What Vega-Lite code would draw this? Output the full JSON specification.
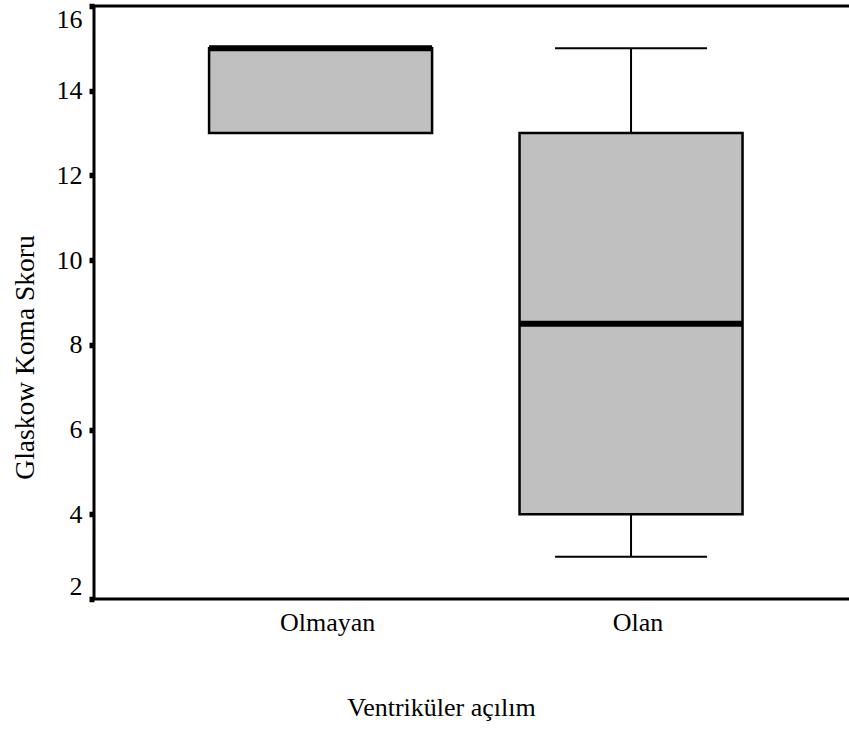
{
  "$schema": "https://vega.github.io/schema/vega-lite/v6.json",
  "autosize": "none",
  "padding": {"left": 94, "top": 6, "right": 0, "bottom": 130},
  "width": 760,
  "height": 593,
  "background": "white",
  "config": {
    "font": "Liberation Serif",
    "view": {"stroke": "black", "strokeWidth": 3},
    "axis": {
      "labelFont": "Liberation Serif",
      "titleFont": "Liberation Serif",
      "labelColor": "black",
      "titleColor": "black",
      "titleFontWeight": "normal",
      "grid": false,
      "domain": false
    }
  },
  "data": {
    "values": [
      {"grup": "Olmayan", "min": 13, "q1": 13, "median": 15, "q3": 15, "max": 15},
      {"grup": "Olan", "min": 3, "q1": 4, "median": 8.5, "q3": 13, "max": 15}
    ]
  },
  "encoding": {
    "x": {
      "field": "grup",
      "type": "nominal",
      "sort": ["Olmayan", "Olan"],
      "scale": {"paddingInner": 0, "paddingOuter": 0.224, "align": 0.513},
      "axis": {
        "title": "Ventriküler açılım",
        "labelAngle": 0,
        "labelFontSize": 26,
        "labelPadding": 10,
        "labelOffset": 7,
        "ticks": false,
        "titleFontSize": 26,
        "titleX": 347,
        "titleY": 116,
        "titleBaseline": "alphabetic",
        "titleAlign": "center"
      }
    }
  },
  "layer": [
    {
      "mark": {"type": "rule", "color": "black", "strokeWidth": 2},
      "encoding": {
        "y": {
          "field": "min",
          "type": "quantitative",
          "scale": {"domain": [2, 16], "nice": false, "zero": false},
          "axis": {
            "title": "Glaskow Koma Skoru",
            "values": [2, 4, 6, 8, 10, 12, 14, 16],
            "labelFontSize": 26,
            "labelPadding": 7,
            "labelFlush": true,
            "tickColor": "black",
            "tickSize": 5,
            "tickWidth": 5.5,
            "titleFontSize": 27.5,
            "titleX": -61,
            "titleY": 351,
            "titleAngle": 270,
            "titleBaseline": "alphabetic",
            "titleAlign": "center"
          }
        },
        "y2": {"field": "max"}
      }
    },
    {
      "mark": {"type": "tick", "color": "black", "size": 152, "thickness": 2, "opacity": 1},
      "encoding": {"y": {"field": "min", "type": "quantitative"}}
    },
    {
      "mark": {"type": "tick", "color": "black", "size": 152, "thickness": 2, "opacity": 1},
      "encoding": {"y": {"field": "max", "type": "quantitative"}}
    },
    {
      "mark": {"type": "bar", "size": 223, "fill": "#c0c0c0", "stroke": "black", "strokeWidth": 2.5, "opacity": 1},
      "encoding": {
        "y": {"field": "q1", "type": "quantitative"},
        "y2": {"field": "q3"}
      }
    },
    {
      "mark": {"type": "tick", "color": "black", "size": 223, "thickness": 6, "opacity": 1},
      "encoding": {"y": {"field": "median", "type": "quantitative"}}
    }
  ]
}
